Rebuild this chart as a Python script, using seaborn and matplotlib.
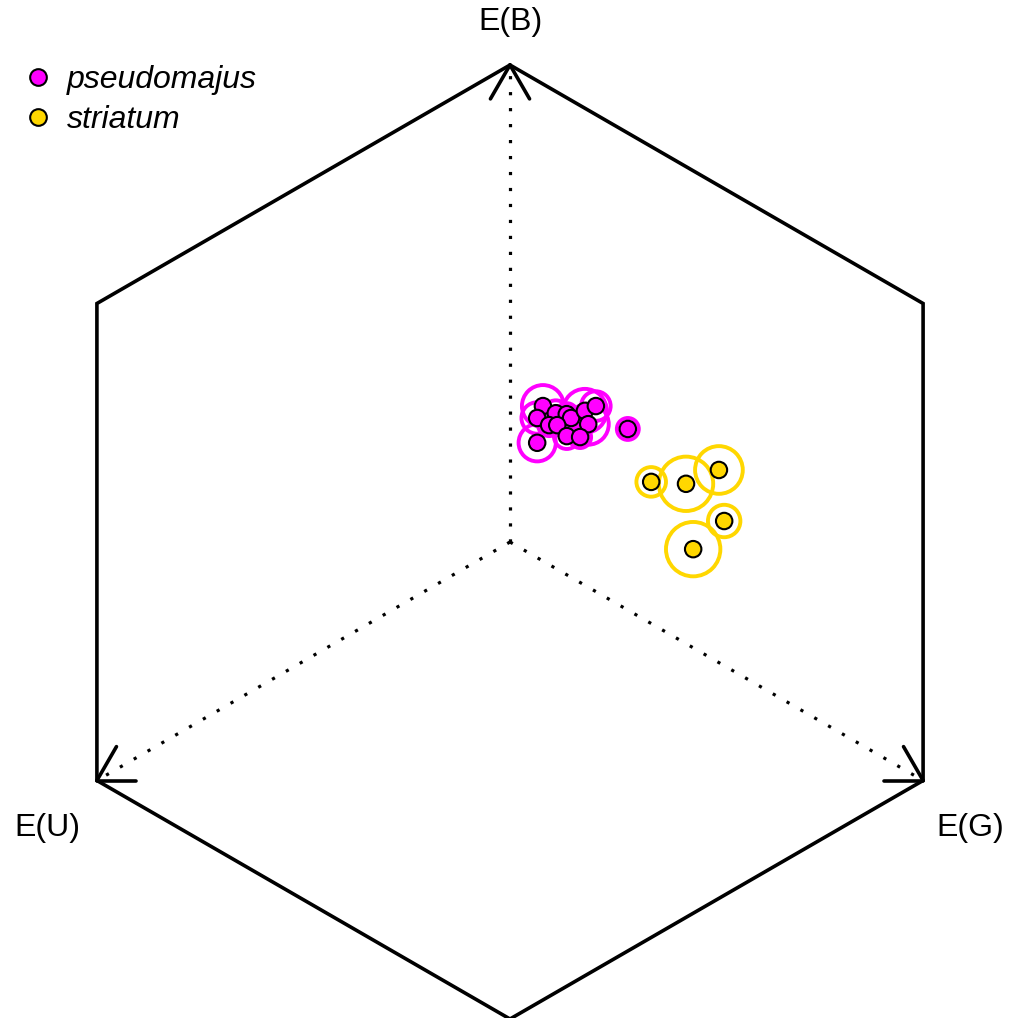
import numpy as np
import pandas as pd
import matplotlib
matplotlib.use("Agg")
import matplotlib.pyplot as plt
from matplotlib.patches import Circle
import seaborn as sns

# hexagon coordinates of the colour loci (x, y) and spread radius
pseudo_x = [0.069, 0.057, 0.096, 0.119, 0.128, 0.157, 0.180, 0.082, 0.099, 0.164, 0.119, 0.147, 0.057, 0.247]
pseudo_y = [0.285, 0.260, 0.270, 0.268, 0.260, 0.275, 0.285, 0.245, 0.245, 0.247, 0.222, 0.220, 0.208, 0.237]
pseudo_r = [0.044, 0.033, 0.027, 0.023, 0.021, 0.046, 0.031, 0.023, 0.021, 0.043, 0.027, 0.023, 0.039, 0.023]

stri_x = [0.296, 0.369, 0.438, 0.449, 0.384]
stri_y = [0.126, 0.122, 0.151, 0.044, -0.015]
stri_r = [0.031, 0.057, 0.050, 0.034, 0.057]

species = ["pseudomajus", "striatum"]
colours = {"pseudomajus": "#FF00FF", "striatum": "#FFD700"}
receptors = ["E(B)", "E(G)", "E(U)"]
receptor_angles = [90, -30, 210]

df = pd.concat([
    pd.DataFrame({"x": pseudo_x, "y": pseudo_y, "r": pseudo_r, "species": "pseudomajus"}),
    pd.DataFrame({"x": stri_x, "y": stri_y, "r": stri_r, "species": "striatum"}),
], ignore_index=True)

sns.set_style("white")
plt.rcParams['font.family'] = ['Liberation Sans', 'DejaVu Sans']
plt.rcParams['text.color'] = 'black'

fig = plt.figure(figsize=(10.21, 10.18), dpi=100)
ax = fig.add_axes([0, 0, 1, 1])
scale = 477.0
ax.set_xlim(-510 / scale, (1021 - 510) / scale)
ax.set_ylim((542 - 1018) / scale, 542 / scale)
ax.set_axis_off()

# hexagon outline
ang = np.deg2rad(np.arange(90, 450 + 1, 60))
ax.plot(np.cos(ang), np.sin(ang), color="black", lw=2.6, solid_joinstyle="miter")

# receptor axes: dotted line + open arrowhead
head = 0.082
for lab, a in zip(receptors, receptor_angles):
    t = np.deg2rad(a)
    vx, vy = np.cos(t), np.sin(t)
    ax.plot([0, vx], [0, vy], color="black", lw=2.3, linestyle=(0, (1, 4)))
    for d in (150, -150):
        b = t + np.deg2rad(d)
        ax.plot([vx, vx + head * np.cos(b)], [vy, vy + head * np.sin(b)],
                color="black", lw=2.6, solid_capstyle="round")

ax.text(0, 1.090, "E(B)", ha="center", va="center", fontsize=23, color="black")
ax.text(-0.969, -0.600, "E(U)", ha="center", va="center", fontsize=23, color="black")
ax.text(0.964, -0.600, "E(G)", ha="center", va="center", fontsize=23, color="black")

# spread rings
for _, row in df.iterrows():
    ax.add_patch(Circle((row["x"], row["y"]), row["r"], fill=False,
                        edgecolor=colours[row["species"]], lw=2.8, zorder=3))

sns.scatterplot(data=df, x="x", y="y", hue="species", palette=colours,
                s=140, edgecolor="black", linewidth=1.5, ax=ax, zorder=4)

leg = ax.legend(loc="upper left", bbox_to_anchor=(0.011, 0.949), frameon=False,
                prop={"style": "italic", "size": 23}, handletextpad=0.45,
                handlelength=0.9, labelspacing=0.33, borderaxespad=0)
for h in leg.legend_handles:
    h.set_markersize(12)
    h.set_markeredgecolor("black")
    h.set_markeredgewidth(1.5)
for t in leg.get_texts():
    t.set_color("black")

fig.savefig("out.png", dpi=100)
